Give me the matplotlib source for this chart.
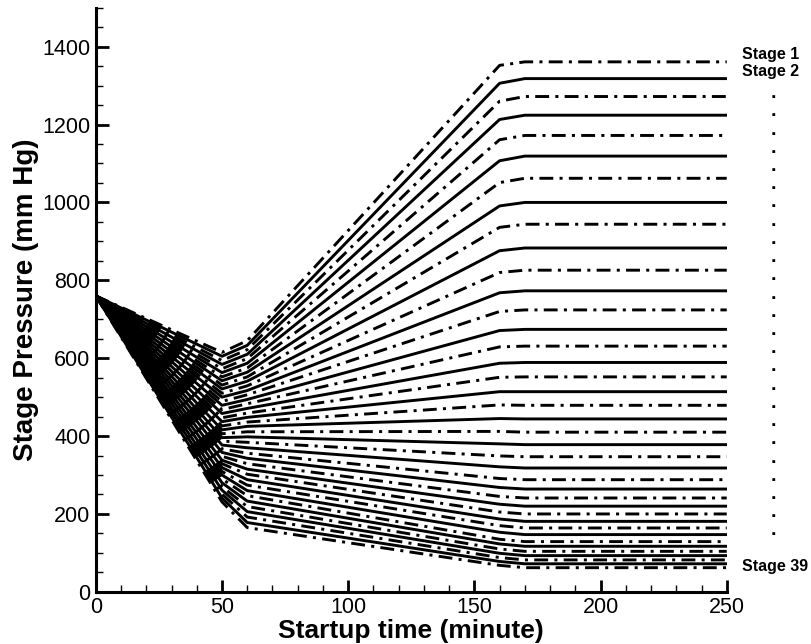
import matplotlib
matplotlib.use("Agg")
import matplotlib.pyplot as plt
from matplotlib.ticker import MultipleLocator

plt.rcParams['font.family'] = ['Liberation Sans', 'DejaVu Sans']
plt.rcParams['lines.scale_dashes'] = False

# tiempos de los quiebres de cada curva (minutos)
tiempos = [0, 50, 60, 160, 170, 250]

# presion de cada etapa (1..39) en cada quiebre (mm Hg)
p0 = [760] * 39
p50 = [615, 605, 594, 584, 573, 563, 552, 542, 531, 521, 510, 500, 489, 479,
       468, 458, 447, 437, 426, 416, 406, 396, 387, 377, 367, 358, 348, 338,
       329, 319, 309, 300, 290, 280, 270, 261, 251, 241, 231]
p60 = [645, 633, 622, 610, 599, 587, 575, 564, 552, 541, 529, 517, 506, 494,
       483, 471, 459, 448, 436, 425, 411, 398, 384, 370, 356, 343, 329, 315,
       302, 288, 274, 260, 247, 233, 219, 206, 192, 178, 165]
p160 = [1352, 1306, 1260, 1213, 1161, 1107, 1051, 991, 936, 876, 820, 768, 720,
        671, 629, 587, 551, 514, 480, 445, 412, 380, 349, 321, 291, 268, 245,
        225, 205, 187, 170, 153, 135, 123, 110, 99, 88, 78, 68]
pfinal = [1361, 1318, 1272, 1224, 1172, 1119, 1062, 1000, 944, 883, 826, 773,
          724, 674, 631, 589, 552, 514, 479, 444, 410, 378, 347, 318, 288, 264,
          241, 220, 200, 181, 164, 147, 129, 117, 104, 93, 82, 72, 62]

fig = plt.figure(figsize=(8.12, 6.44), dpi=100)
ax = fig.add_axes([0.118, 0.081, 0.777, 0.907])

# Dibujamos las 39 etapas: impares punto-raya, pares continuas
for i in range(39):
    valores = [p0[i], p50[i], p60[i], p160[i], pfinal[i], pfinal[i]]
    if i % 2 == 0:
        ax.plot(tiempos, valores, color='black', lw=2.1,
                dashes=(10, 4.5, 2.2, 4.5), dash_capstyle='butt')
    else:
        ax.plot(tiempos, valores, color='black', lw=2.1)

ax.set_xlim(0, 250)
ax.set_ylim(0, 1500)
ax.xaxis.set_major_locator(MultipleLocator(50))
ax.xaxis.set_minor_locator(MultipleLocator(10))
ax.yaxis.set_minor_locator(MultipleLocator(50))
ax.set_yticks(range(0, 1401, 200))

for s in ['top', 'right']:
    ax.spines[s].set_visible(False)
for s in ['left', 'bottom']:
    ax.spines[s].set_linewidth(2.2)

ax.tick_params(which='major', direction='in', length=9, width=2, labelsize=15.5, pad=4)
ax.tick_params(which='minor', direction='in', length=5, width=1)

# Rotulos de x & y
ax.set_xlabel('Startup time (minute)', fontsize=19, fontweight='bold')
ax.xaxis.set_label_coords(0.5, -0.067)
ax.xaxis.label.set_va('center')
ax.set_ylabel('Stage Pressure (mm Hg)', fontsize=20, fontweight='bold', labelpad=2)

# Etiquetas de las etapas a la derecha
ax.text(256, 1379, 'Stage 1', fontsize=11.5, fontweight='bold', va='center', clip_on=False)
ax.text(256, 1335, 'Stage 2', fontsize=11.5, fontweight='bold', va='center', clip_on=False)
ax.text(256, 64, 'Stage 39', fontsize=11.5, fontweight='bold', va='center', clip_on=False)
for k in range(25):
    ax.text(268.5, 1268 - k * 46.8, '.', fontsize=14, fontweight='bold',
            ha='center', va='baseline', clip_on=False)

fig.savefig('out.png', dpi=100)
